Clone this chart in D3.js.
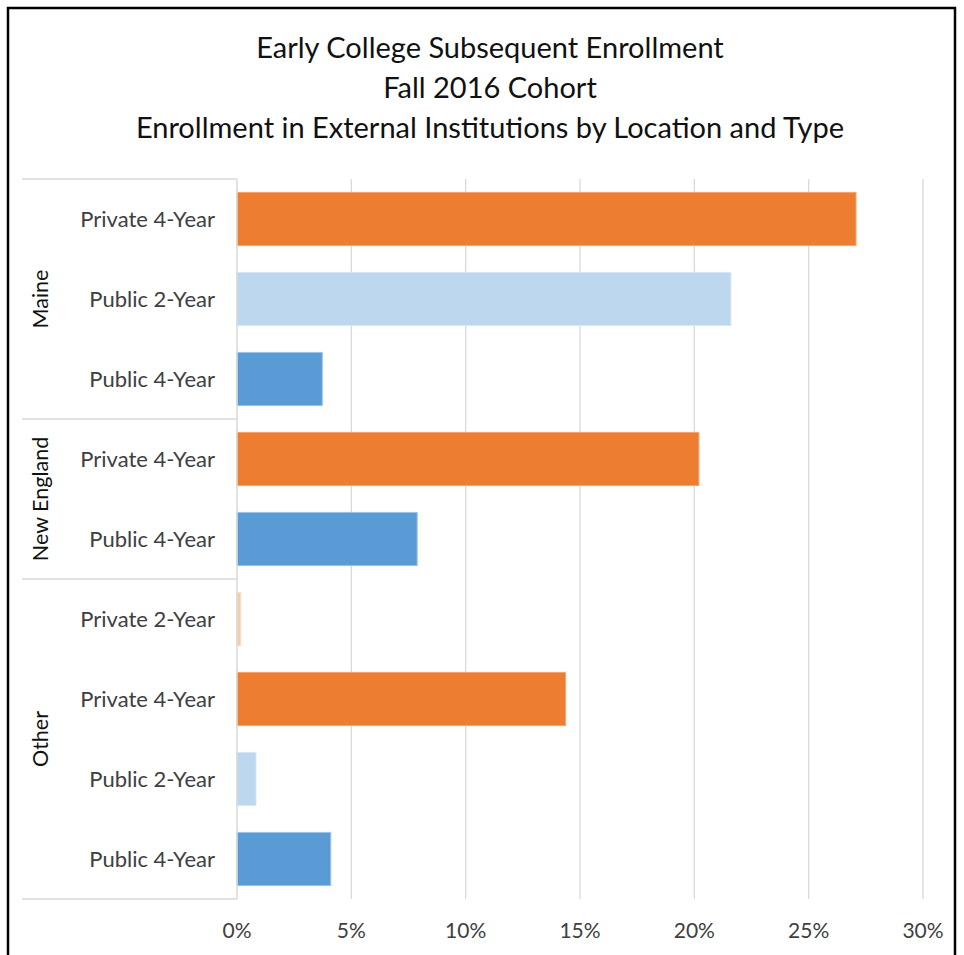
<!DOCTYPE html>
<html>
<head>
<meta charset="utf-8">
<script src="https://cdn.jsdelivr.net/npm/d3@7"></script>
<style>
  body { margin: 0; background: #fff; }
  svg { display: block; font-family: Lato, "Open Sans", sans-serif; }
  .grid line { stroke: #d9d9d9; stroke-width: 1.3; }
  .divider { stroke: #d9d9d9; stroke-width: 1.5; }
  .cat { font-size: 22px; fill: #404040; }
  .group { font-size: 21.5px; fill: #111; }
  .tick-label { font-size: 21px; fill: #404040; }
  .title { font-size: 29px; fill: #111; }
</style>
</head>
<body>
<svg id="vis" width="964" height="955"></svg>
<script>
var TITLE = ["Early College Subsequent  Enrollment", "Fall 2016 Cohort", "Enrollment in External Institutions by Location and Type"];

var groups = ["Maine", "New England", "Other"];
var rowGroups = ["Maine", "Maine", "Maine", "New England", "New England", "Other", "Other", "Other", "Other"];
var rowTypes = ["Private 4-Year", "Public 2-Year", "Public 4-Year", "Private 4-Year", "Public 4-Year",
                "Private 2-Year", "Private 4-Year", "Public 2-Year", "Public 4-Year"];
var values = [0.2707, 0.2160, 0.0373, 0.2020, 0.0788, 0.0016, 0.1437, 0.0083, 0.0410];
var xTicks = [0, 0.05, 0.10, 0.15, 0.20, 0.25, 0.30];

var typeColor = {
	"Private 4-Year": "#ed7d31",
	"Private 2-Year": "#f8cbad",
	"Public 4-Year": "#5b9bd5",
	"Public 2-Year": "#bdd7ee"
};
var typeStroke = {
	"Private 4-Year": "#f4a46f",
	"Private 2-Year": "#fbdcc6",
	"Public 4-Year": "#9cc2e8",
	"Public 2-Year": "#d7e7f6"
};

var svg = d3.select("#vis");

// outer frame
svg.append("rect")
   .attr("x", 8).attr("y", 8)
   .attr("width", 947).attr("height", 960)
   .attr("fill", "none")
   .attr("stroke", "#000")
   .attr("stroke-width", 2.5);

// title
svg.selectAll(".title")
   .data(TITLE)
   .enter()
   .append("text")
   .attr("class", "title")
   .attr("x", 490)
   .attr("y", (d, i) => 58 + i * 40)
   .attr("text-anchor", "middle")
   .text(d => d);

var rows = d3.range(values.length);
var x = d3.scaleLinear().domain([0, 0.30]).range([237, 923]);
var y = d3.scaleBand().domain(rows).range([179, 899]).paddingInner(0.335).paddingOuter(0.1675);

// gridlines
svg.append("g")
   .attr("class", "grid")
   .selectAll("line")
   .data(xTicks.slice(1))
   .enter()
   .append("line")
   .attr("x1", d => x(d)).attr("x2", d => x(d))
   .attr("y1", 179).attr("y2", 899);

// bars
svg.selectAll(".bar")
   .data(rows)
   .enter()
   .append("rect")
   .attr("class", "bar")
   .attr("x", x(0))
   .attr("y", i => y(i))
   .attr("width", i => x(values[i]) - x(0))
   .attr("height", y.bandwidth())
   .attr("fill", i => typeColor[rowTypes[i]])
   .attr("stroke", i => typeStroke[rowTypes[i]])
   .attr("stroke-width", 1);

// category axis line
svg.append("line")
   .attr("class", "divider")
   .attr("x1", x(0)).attr("x2", x(0))
   .attr("y1", 179).attr("y2", 899);

// type labels
svg.selectAll(".cat")
   .data(rows)
   .enter()
   .append("text")
   .attr("class", "cat")
   .attr("x", 215)
   .attr("y", i => y(i) + y.bandwidth() / 2)
   .attr("dy", "0.35em")
   .attr("text-anchor", "end")
   .text(i => rowTypes[i]);

// group spans
var spans = groups.map(g => {
	var idx = rows.filter(i => rowGroups[i] == g);
	return { name: g, start: d3.min(idx), end: d3.max(idx) };
});
var step = y.step();
var top0 = 179;

var boundaries = [top0].concat(spans.map(s => top0 + (s.end + 1) * step));
svg.selectAll(".gdiv")
   .data(boundaries)
   .enter()
   .append("line")
   .attr("class", "divider gdiv")
   .attr("x1", 22).attr("x2", x(0))
   .attr("y1", d => d).attr("y2", d => d);

svg.selectAll(".group")
   .data(spans)
   .enter()
   .append("text")
   .attr("class", "group")
   .attr("transform", s => "translate(40," + (top0 + (s.start + s.end + 1) / 2 * step) + ") rotate(-90)")
   .attr("dy", "0.35em")
   .attr("text-anchor", "middle")
   .text(s => s.name);

// x tick labels
svg.selectAll(".tick-label")
   .data(xTicks)
   .enter()
   .append("text")
   .attr("class", "tick-label")
   .attr("x", d => x(d))
   .attr("y", 938)
   .attr("text-anchor", "middle")
   .text(d => d3.format(".0%")(d));
</script>
</body>
</html>
